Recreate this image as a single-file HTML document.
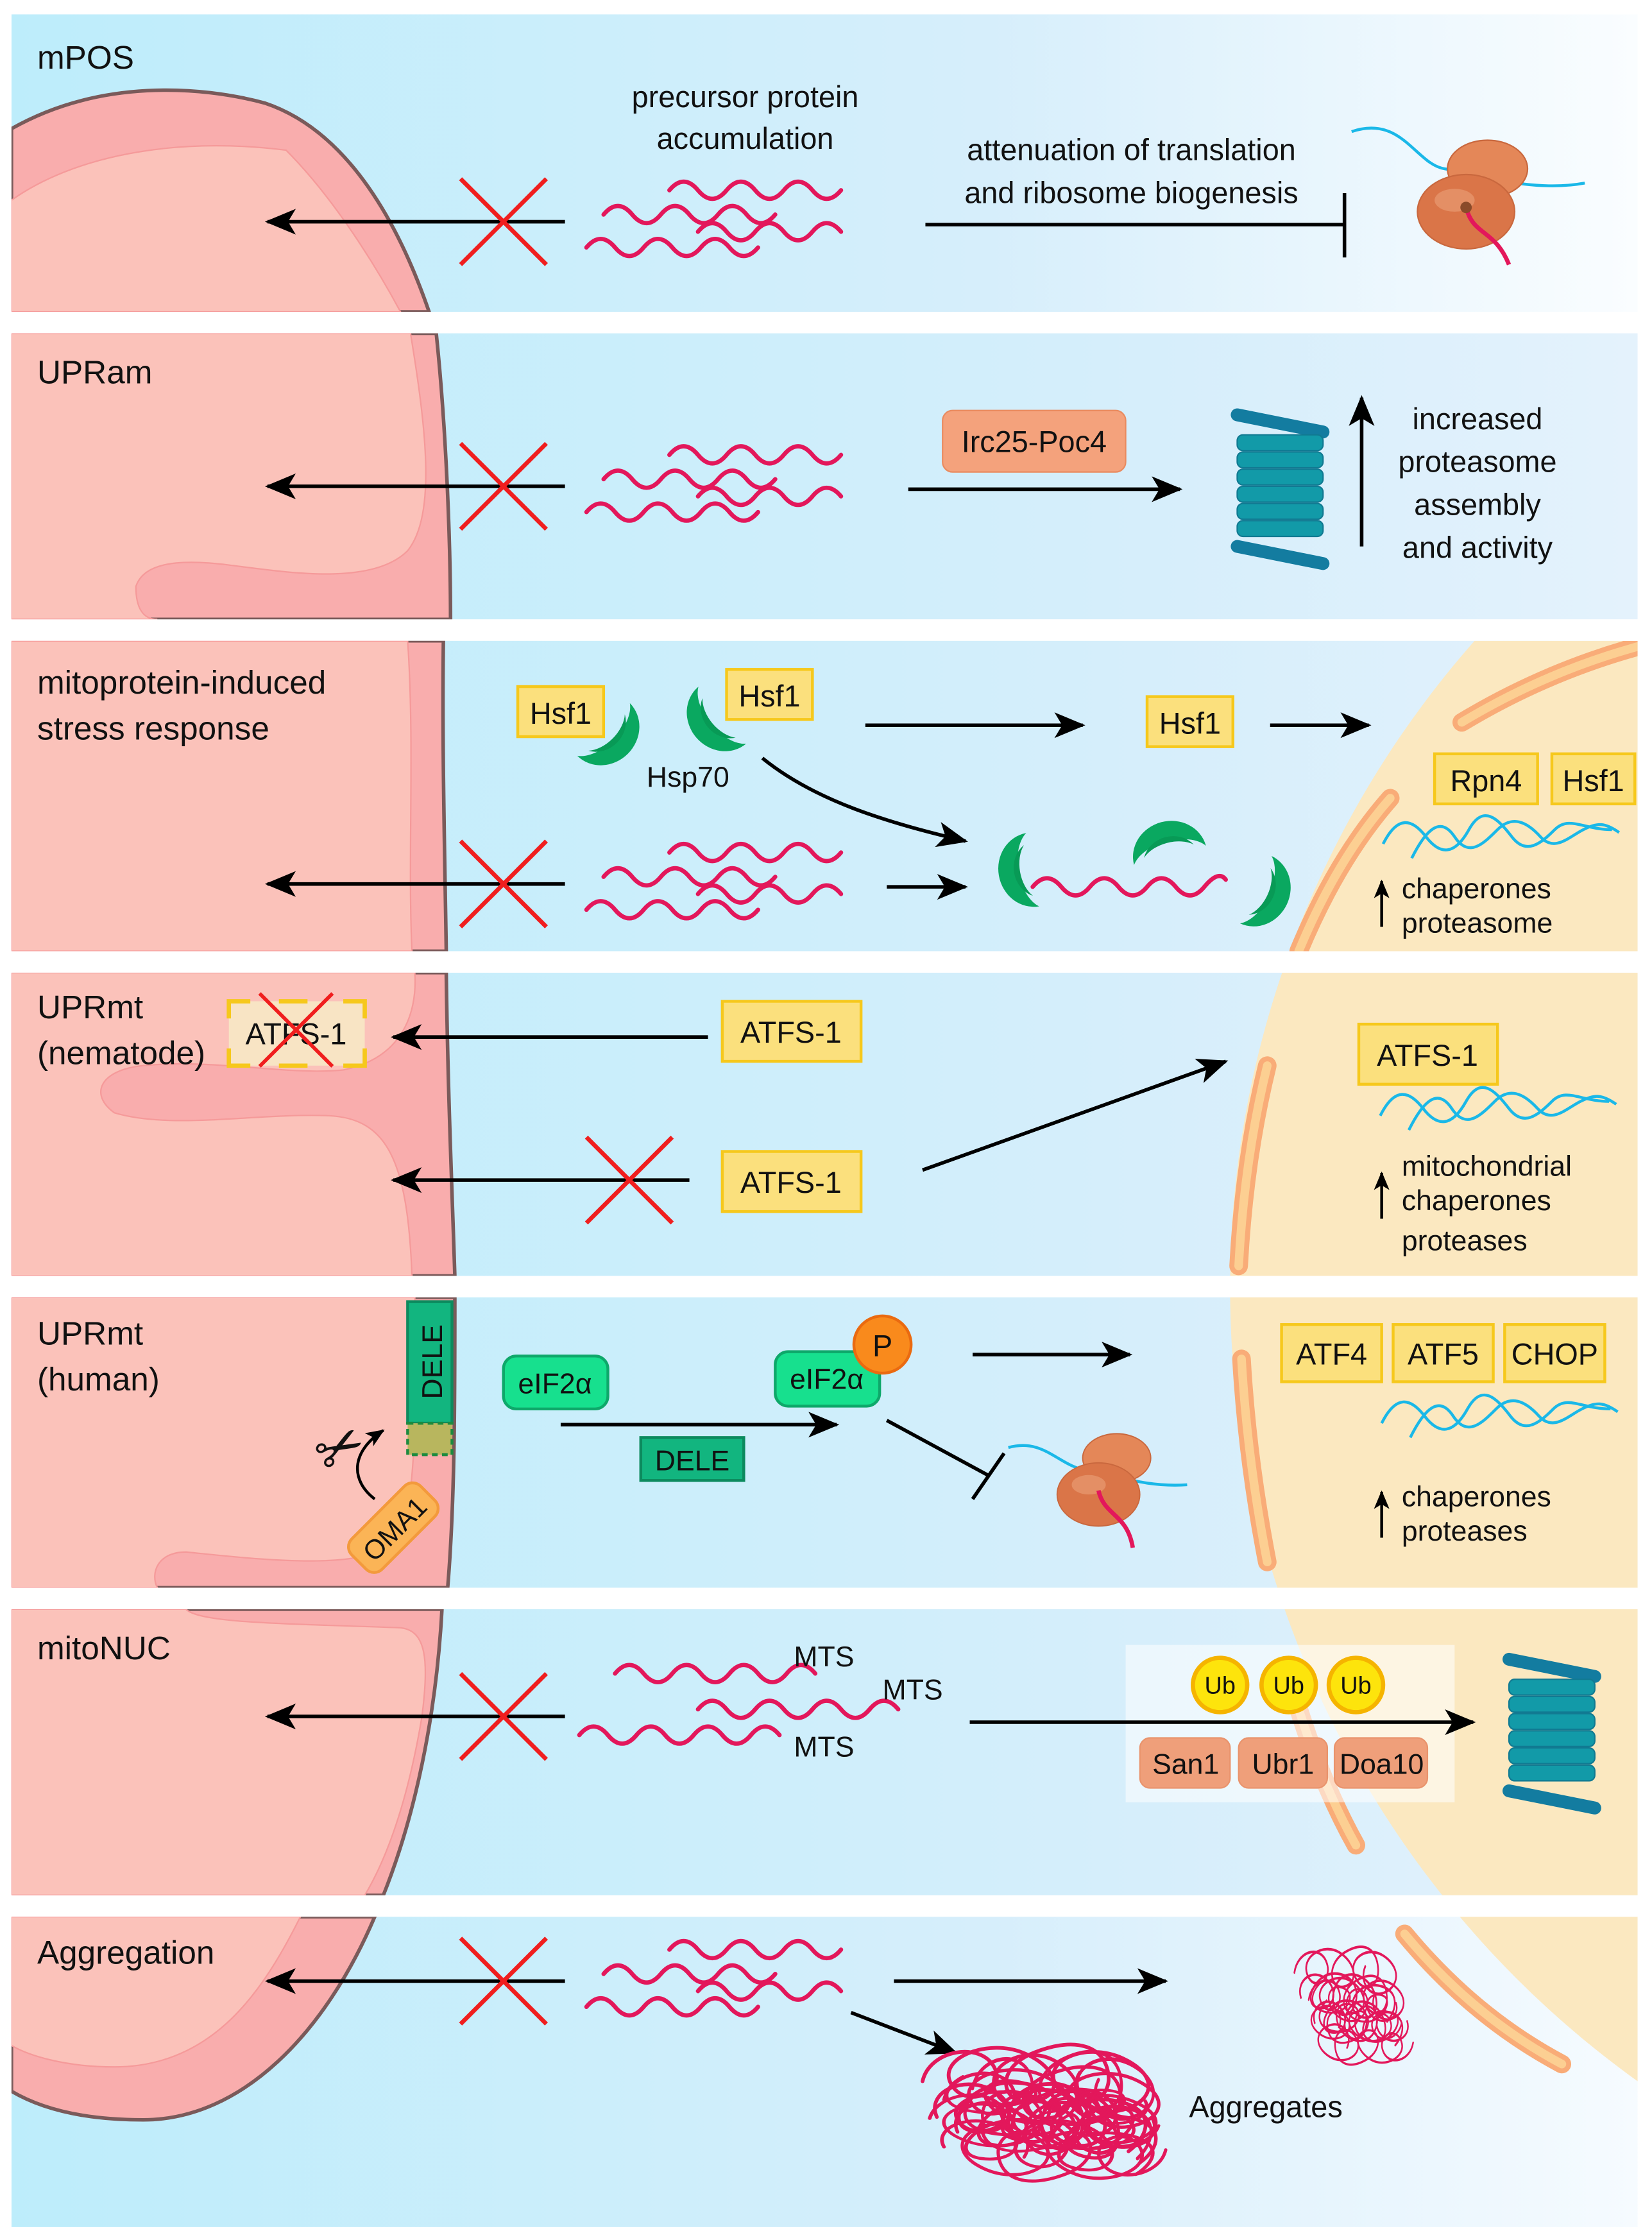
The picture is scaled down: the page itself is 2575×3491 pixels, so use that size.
<!DOCTYPE html>
<html><head><meta charset="utf-8"><style>
html,body{margin:0;padding:0;background:#fff}
svg{display:block}
text{font-family:"Liberation Sans",sans-serif;fill:#111}
</style></head><body>
<svg width="2575" height="3491" viewBox="0 0 1155 1566" preserveAspectRatio="none" xmlns="http://www.w3.org/2000/svg">
<defs>
<linearGradient id="bg" x1="0" x2="1" y1="0" y2="0"><stop offset="0" stop-color="#bdedfb"/><stop offset="0.7" stop-color="#d6eefb"/><stop offset="1" stop-color="#e4f2fc"/></linearGradient>
<linearGradient id="bg1" x1="0" x2="1" y1="0" y2="0"><stop offset="0" stop-color="#bdedfb"/><stop offset="0.6" stop-color="#d6eefb"/><stop offset="1" stop-color="#fafdff"/></linearGradient>
<linearGradient id="bg7" x1="0" x2="1" y1="0" y2="0"><stop offset="0" stop-color="#bdedfb"/><stop offset="0.6" stop-color="#d6eefb"/><stop offset="1" stop-color="#f6fbff"/></linearGradient>
<clipPath id="pan"><rect x="8" y="448" width="1137" height="217"/><rect x="8" y="680" width="1137" height="212"/><rect x="8" y="907" width="1137" height="203"/><rect x="8" y="1125" width="1137" height="200"/><rect x="8" y="1340" width="1137" height="217"/></clipPath>
<marker id="ah" viewBox="0 0 12 10" refX="11" refY="5" markerWidth="22" markerHeight="18" orient="auto" markerUnits="userSpaceOnUse"><path d="M0,0 L12,5 L0,10 L3,5 Z" fill="#000"/></marker>
<marker id="ahs" viewBox="0 0 12 10" refX="11" refY="5" markerWidth="13" markerHeight="11" orient="auto" markerUnits="userSpaceOnUse"><path d="M0,0 L12,5 L0,10 L3,5 Z" fill="#000"/></marker>
<g id="waves" fill="none" stroke="#e3175b" stroke-width="3" stroke-linecap="round">
<path d="M468,133 q10,-12 20,0 t20,0 t20,0 t20,0 t20,0 t20,0"/>
<path d="M422,150 q10,-12 20,0 t20,0 t20,0 t20,0 t20,0 t20,0"/>
<path d="M488,162 q10,-12 20,0 t20,0 t20,0 t20,0 t20,0"/>
<path d="M410,173 q10,-12 20,0 t20,0 t20,0 t20,0 t20,0 t20,0"/>
</g>
<g id="xx" stroke="#f01e1e" stroke-width="3"><line x1="-30" y1="-30" x2="30" y2="30"/><line x1="30" y1="-30" x2="-30" y2="30"/></g>
<g id="crescent"><path d="M0,-26 A24,26 0 0,0 0,26 A16,28 0 0,1 0,-26 Z" fill="#0aa860"/><path d="M-3,-18 A18,20 0 0,0 -3,18 A14,22 0 0,1 -3,-18Z" fill="#089a56"/></g>
<g id="prot">
<path d="M-30,-52 L30,-40" stroke="#137ca0" stroke-width="9" stroke-linecap="round"/>
<g fill="#129aa8" stroke="#117a92" stroke-width="1"><rect x="-30" y="-38" width="60" height="11" rx="4"/><rect x="-30" y="-26" width="60" height="11" rx="4"/><rect x="-30" y="-14" width="60" height="11" rx="4"/><rect x="-30" y="-2" width="60" height="11" rx="4"/><rect x="-30" y="10" width="60" height="11" rx="4"/><rect x="-30" y="22" width="60" height="11" rx="4"/></g>
<path d="M-30,40 L30,52" stroke="#137ca0" stroke-width="9" stroke-linecap="round"/>
</g>
<g id="dna" fill="none" stroke="#1ab8e8" stroke-width="2"><path d="M0,10 C10,-10 20,-8 30,5 S50,18 60,0 S80,-8 90,5 S110,10 120,0 S140,0 160,0"/><path d="M20,20 C30,0 40,-10 50,5 S70,10 80,0 S100,-6 110,5 S130,5 140,0 S155,-5 165,2"/></g>
<g id="ribo"><ellipse cx="15" cy="-22" rx="28" ry="20" fill="#e48758" stroke="#c9683e"/><ellipse cx="0" cy="8" rx="34" ry="26" fill="#da7548" stroke="#c9683e"/><ellipse cx="-8" cy="0" rx="14" ry="8" fill="#eba07a" opacity="0.6"/></g>
<path id="tangle" d="M0,20 c5,-22 40,-28 50,-10 s-20,30 -30,12 s25,-32 50,-22 s30,30 8,34 s-30,-22 0,-34 s50,-4 52,16 s-24,26 -36,8 s20,-32 46,-20 s22,30 0,36 s-40,-10 -30,-26 M10,45 c-8,-18 20,-30 40,-18 s10,32 -14,28 s-4,-34 26,-34 s42,18 30,34 s-40,4 -30,-18 s46,-18 60,0 s0,34 -22,26 s-4,-34 30,-30 s30,24 14,36"/>
</defs>

<rect x="8" y="10" width="1137" height="208" fill="url(#bg1)"/>
<rect x="8" y="233" width="1137" height="200" fill="url(#bg)"/>
<rect x="8" y="448" width="1137" height="217" fill="url(#bg)"/>
<rect x="8" y="680" width="1137" height="212" fill="url(#bg)"/>
<rect x="8" y="907" width="1137" height="203" fill="url(#bg)"/>
<rect x="8" y="1125" width="1137" height="200" fill="url(#bg)"/>
<rect x="8" y="1340" width="1137" height="217" fill="url(#bg7)"/>

<g clip-path="url(#pan)">
<circle cx="1543" cy="900" r="683" fill="#fbe8c0"/>
<g fill="none" stroke-linecap="round">
<g stroke="#f9ac78" stroke-width="13">
<path d="M1022,505 Q1080,470 1145,452"/><path d="M972,558 Q935,600 908,665"/>
<path d="M886,745 Q870,810 866,885"/><path d="M868,950 Q872,1020 886,1092"/>
<path d="M900,1168 Q920,1240 948,1290"/><path d="M982,1352 Q1030,1410 1092,1443"/>
</g>
<g stroke="#fccf92" stroke-width="6">
<path d="M1022,505 Q1080,470 1145,452"/><path d="M972,558 Q935,600 908,665"/>
<path d="M886,745 Q870,810 866,885"/><path d="M868,950 Q872,1020 886,1092"/>
<path d="M900,1168 Q920,1240 948,1290"/><path d="M982,1352 Q1030,1410 1092,1443"/>
</g>
</g>
</g>

<g stroke="#7a5a5a" stroke-width="2.5" fill="#f9adad">
<path d="M8,90 C70,55 140,60 185,72 C245,92 280,160 300,218 L8,218 Z"/>
<path d="M8,233 L305,233 C312,300 315,380 315,433 L8,433 Z"/>
<path d="M8,448 L310,448 C309,520 311,600 312,665 L8,665 Z"/>
<path d="M8,680 L312,680 C313,760 316,830 318,892 L8,892 Z"/>
<path d="M8,907 L318,907 C318,980 318,1050 313,1110 L8,1110 Z"/>
<path d="M8,1125 L309,1125 C305,1200 290,1270 268,1325 L8,1325 Z"/>
<path d="M8,1340 L262,1340 C228,1420 170,1482 100,1482 C60,1482 30,1475 8,1462 Z"/>
</g>
<g fill="#fbc2ba" stroke="#f59a9a" stroke-width="1">
<path d="M8,140 C50,110 120,95 200,105 C235,140 265,190 280,218 L8,218 Z"/>
<path d="M8,233 L287,233 C298,300 305,360 285,385 C260,410 200,400 160,395 C120,390 100,395 95,410 C95,425 100,433 110,433 L8,433 Z"/>
<path d="M8,448 L285,448 C290,520 285,600 288,665 L8,665 Z"/>
<path d="M8,680 L290,680 C292,710 280,740 240,748 C200,752 150,740 100,745 C70,748 62,765 80,778 C120,790 180,778 230,780 C270,782 285,810 288,892 L8,892 Z"/>
<path d="M8,907 L290,907 C292,980 290,1050 280,1075 C260,1100 180,1090 130,1085 C110,1085 105,1100 110,1110 L8,1110 Z"/>
<path d="M8,1125 L130,1125 C140,1135 200,1135 280,1138 C298,1140 300,1160 295,1200 C285,1260 270,1300 255,1325 L8,1325 Z"/>
<path d="M8,1340 L210,1340 C185,1390 150,1445 80,1445 C45,1445 20,1437 8,1430 Z"/>
</g>
<g fill="#fff"><rect x="0" y="218" width="1155" height="15"/><rect x="0" y="433" width="1155" height="15"/><rect x="0" y="665" width="1155" height="15"/><rect x="0" y="892" width="1155" height="15"/><rect x="0" y="1110" width="1155" height="15"/><rect x="0" y="1325" width="1155" height="15"/><rect x="0" y="1557" width="1155" height="9"/><rect x="0" y="0" width="1155" height="10"/><rect x="0" y="0" width="8" height="1566"/><rect x="1145" y="0" width="10" height="1566"/></g>

<rect x="787" y="1150" width="230" height="110" fill="#fff" opacity="0.55"/>

<g font-size="23">
<text x="26" y="48">mPOS</text>
<text x="26" y="268">UPRam</text>
<text x="26" y="485">mitoprotein-induced</text><text x="26" y="517">stress response</text>
<text x="26" y="712">UPRmt</text><text x="26" y="744">(nematode)</text>
<text x="26" y="940">UPRmt</text><text x="26" y="972">(human)</text>
<text x="26" y="1160">mitoNUC</text>
<text x="26" y="1373">Aggregation</text>
</g>

<g stroke="#000" stroke-width="2.5" fill="none">
<line x1="395" y1="155" x2="187" y2="155" marker-end="url(#ah)"/>
<line x1="395" y1="340" x2="187" y2="340" marker-end="url(#ah)"/>
<line x1="395" y1="618" x2="187" y2="618" marker-end="url(#ah)"/>
<line x1="495" y1="725" x2="275" y2="725" marker-end="url(#ah)"/>
<line x1="482" y1="825" x2="275" y2="825" marker-end="url(#ah)"/>
<line x1="395" y1="1200" x2="187" y2="1200" marker-end="url(#ah)"/>
<line x1="395" y1="1385" x2="187" y2="1385" marker-end="url(#ah)"/>
<line x1="647" y1="157" x2="940" y2="157"/><line x1="940" y1="135" x2="940" y2="180"/>
<line x1="635" y1="342" x2="825" y2="342" marker-end="url(#ah)"/>
<line x1="952" y1="382" x2="952" y2="278" marker-end="url(#ah)"/>
<line x1="605" y1="507" x2="757" y2="507" marker-end="url(#ah)"/>
<line x1="888" y1="507" x2="957" y2="507" marker-end="url(#ah)"/>
<path d="M533,530 C570,560 620,575 675,588" marker-end="url(#ah)"/>
<line x1="620" y1="620" x2="675" y2="620" marker-end="url(#ah)"/>
<line x1="966" y1="648" x2="966" y2="616" marker-end="url(#ahs)" stroke-width="2"/>
<line x1="645" y1="818" x2="857" y2="742" marker-end="url(#ah)"/>
<line x1="966" y1="852" x2="966" y2="820" marker-end="url(#ahs)" stroke-width="2"/>
<line x1="392" y1="996" x2="585" y2="996" marker-end="url(#ah)"/>
<line x1="680" y1="947" x2="790" y2="947" marker-end="url(#ah)"/>
<line x1="620" y1="993" x2="692" y2="1032"/><line x1="680" y1="1048" x2="702" y2="1016"/>
<line x1="966" y1="1075" x2="966" y2="1043" marker-end="url(#ahs)" stroke-width="2"/>
<line x1="678" y1="1204" x2="1030" y2="1204" marker-end="url(#ah)"/>
<line x1="625" y1="1385" x2="815" y2="1385" marker-end="url(#ah)"/>
<line x1="595" y1="1407" x2="668" y2="1435" marker-end="url(#ah)"/>
<path d="M262,1048 C245,1035 245,1015 268,1000" marker-end="url(#ahs)" stroke-width="2"/>
</g>

<use href="#waves"/>
<use href="#waves" transform="translate(0,185)"/>
<use href="#waves" transform="translate(0,463)"/>
<use href="#waves" transform="translate(0,1230)"/>
<g fill="none" stroke="#e3175b" stroke-width="3" stroke-linecap="round">
<path d="M430,1170 q10,-12 20,0 t20,0 t20,0 t20,0 t20,0 t20,0 t20,0"/>
<path d="M488,1195 q10,-12 20,0 t20,0 t20,0 t20,0 t20,0 t20,0 t20,0"/>
<path d="M405,1213 q10,-12 20,0 t20,0 t20,0 t20,0 t20,0 t20,0 t20,0"/>
<path d="M722,620 q10,-12 20,0 t20,0 t20,0 t20,0 t20,0 t20,0 t15,-5"/>
</g>
<use href="#xx" transform="translate(352,155)"/>
<use href="#xx" transform="translate(352,340)"/>
<use href="#xx" transform="translate(352,618)"/>
<use href="#xx" transform="translate(440,825)"/>
<use href="#xx" transform="translate(352,1200)"/>
<use href="#xx" transform="translate(352,1385)"/>

<g font-size="21" text-anchor="middle">
<text x="521" y="75">precursor protein</text><text x="521" y="104">accumulation</text>
<text x="791" y="112">attenuation of translation</text><text x="791" y="142">and ribosome biogenesis</text>
</g>
<path d="M945,92 C980,80 990,115 1010,118 S1070,135 1108,128" stroke="#1ab8e8" stroke-width="2" fill="none"/>
<use href="#ribo" transform="translate(1025,140)"/>
<path d="M1025,145 C1030,165 1045,160 1055,185" stroke="#e3175b" stroke-width="3" fill="none"/>
<circle cx="1025" cy="145" r="4" fill="#8a4b2a"/>

<rect x="659" y="287" width="128" height="43" rx="7" fill="#f4a27c" stroke="#e98b60"/>
<text x="723" y="316" font-size="21" text-anchor="middle">Irc25-Poc4</text>
<use href="#prot" transform="translate(895,342)"/>
<g font-size="21" text-anchor="middle"><text x="1033" y="300">increased</text><text x="1033" y="330">proteasome</text><text x="1033" y="360">assembly</text><text x="1033" y="390">and activity</text></g>

<use href="#crescent" transform="translate(422,510) rotate(225)"/>
<use href="#crescent" transform="translate(505,500) rotate(-40)"/>
<use href="#crescent" transform="translate(722,608) rotate(-10)"/>
<use href="#crescent" transform="translate(818,598) rotate(75)"/>
<use href="#crescent" transform="translate(878,622) rotate(205)"/>

<g fill="#fbe07d" stroke="#f6c81c" stroke-width="2">
<rect x="362" y="480" width="60" height="35"/><rect x="508" y="468" width="60" height="35"/>
<rect x="802" y="487" width="60" height="35"/>
<rect x="1003" y="527" width="72" height="35"/><rect x="1085" y="527" width="58" height="35"/>
<rect x="505" y="700" width="97" height="42"/><rect x="505" y="805" width="97" height="42"/>
<rect x="950" y="716" width="97" height="42"/>
<rect x="896" y="926" width="70" height="40"/><rect x="974" y="926" width="70" height="40"/><rect x="1052" y="926" width="70" height="40"/>
</g>
<rect x="160" y="700" width="95" height="45" fill="#f8e4c4"/>
<g stroke="#f6c81c" stroke-width="3" fill="none"><path d="M160,712 V700 H175 M195,700 H215 M240,700 H255 V712 M255,733 V745 H240 M215,745 H195 M175,745 H160 V733"/></g>
<g font-size="21" text-anchor="middle">
<text x="392" y="506">Hsf1</text><text x="538" y="494">Hsf1</text><text x="832" y="513">Hsf1</text>
<text x="1039" y="553">Rpn4</text><text x="1114" y="553">Hsf1</text>
<text x="207" y="730">ATFS-1</text>
<text x="553" y="729">ATFS-1</text><text x="553" y="834">ATFS-1</text><text x="998" y="745">ATFS-1</text>
<text x="931" y="954">ATF4</text><text x="1009" y="954">ATF5</text><text x="1087" y="954">CHOP</text>
<text x="481" y="550" font-size="20">Hsp70</text>
</g>
<use href="#xx" transform="translate(207,720) scale(0.85)"/>
<use href="#dna" transform="translate(967,580)"/>
<use href="#dna" transform="translate(965,770)"/>
<use href="#dna" transform="translate(966,985)"/>
<g font-size="20"><text x="980" y="628">chaperones</text><text x="980" y="652">proteasome</text>
<text x="980" y="822">mitochondrial</text><text x="980" y="846">chaperones</text><text x="980" y="874">proteases</text>
<text x="980" y="1053">chaperones</text><text x="980" y="1077">proteases</text></g>

<rect x="285" y="910" width="31" height="85" fill="#12b57f" stroke="#0c8a5e" stroke-width="2"/>
<text transform="translate(309,952) rotate(-90)" font-size="20" text-anchor="middle">DELE</text>
<rect x="285" y="995" width="31" height="22" fill="#b8b65e" stroke="#1c8a40" stroke-width="2" stroke-dasharray="4,3"/>
<g transform="translate(275,1068) rotate(-45)"><rect x="-34" y="-15" width="68" height="30" rx="8" fill="#fbb456" stroke="#f39a3c" stroke-width="2"/><text x="0" y="8" font-size="19" text-anchor="middle">OMA1</text></g>
<text x="238" y="1026" font-size="40" text-anchor="middle" transform="rotate(-30 238 1013)">✂</text>
<rect x="352" y="948" width="73" height="37" rx="9" fill="#17e08e" stroke="#0ea86a" stroke-width="2"/>
<text x="388" y="974" font-size="20" text-anchor="middle">eIF2α</text>
<rect x="448" y="1005" width="72" height="30" fill="#12b57f" stroke="#0c8a5e" stroke-width="2"/>
<text x="484" y="1028" font-size="20" text-anchor="middle">DELE</text>
<rect x="542" y="945" width="73" height="38" rx="9" fill="#17e08e" stroke="#0ea86a" stroke-width="2"/>
<text x="578" y="971" font-size="20" text-anchor="middle">eIF2α</text>
<circle cx="617" cy="940" r="20" fill="#f98a1c" stroke="#ea6a10" stroke-width="2"/>
<text x="617" y="948" font-size="21" text-anchor="middle">P</text>
<path d="M705,1012 C730,1005 740,1025 760,1028 S800,1040 830,1038" stroke="#1ab8e8" stroke-width="2" fill="none"/>
<use href="#ribo" transform="translate(768,1038) scale(0.85)"/>
<path d="M768,1042 C772,1060 788,1058 792,1082" stroke="#e3175b" stroke-width="3" fill="none"/>

<g font-size="20"><text x="555" y="1165">MTS</text><text x="617" y="1188">MTS</text><text x="555" y="1228">MTS</text></g>
<g fill="#fde40c" stroke="#f5b400" stroke-width="3"><circle cx="853" cy="1178" r="19"/><circle cx="901" cy="1178" r="19"/><circle cx="948" cy="1178" r="19"/></g>
<g font-size="17" text-anchor="middle"><text x="853" y="1184">Ub</text><text x="901" y="1184">Ub</text><text x="948" y="1184">Ub</text></g>
<g fill="#ef9f7a" stroke="#e9936c"><rect x="797" y="1215" width="63" height="35" rx="7"/><rect x="866" y="1215" width="62" height="35" rx="7"/><rect x="933" y="1215" width="65" height="35" rx="7"/></g>
<g font-size="20" text-anchor="middle"><text x="829" y="1240">San1</text><text x="897" y="1240">Ubr1</text><text x="966" y="1240">Doa10</text></g>
<use href="#prot" transform="translate(1085,1212)"/>

<!-- aggregates -->
<g fill="none" stroke="#e3175b" stroke-width="2.6" stroke-linecap="round">
<use href="#tangle" transform="translate(645,1435)"/>
<use href="#tangle" transform="translate(660,1450) scale(0.95,0.9)"/>
<use href="#tangle" transform="translate(650,1465) scale(1,0.8)"/>
<use href="#tangle" transform="translate(680,1440) scale(0.8,1)"/>
<use href="#tangle" transform="translate(815,1520) rotate(180) scale(0.9,0.85)"/>
<use href="#tangle" transform="translate(810,1500) rotate(180) scale(0.95,0.7)"/>
<use href="#tangle" transform="translate(905,1365) scale(0.45,0.7)"/>
<use href="#tangle" transform="translate(915,1385) scale(0.42,0.65)"/>
<use href="#tangle" transform="translate(988,1440) rotate(180) scale(0.42,0.6)"/>
<use href="#tangle" transform="translate(980,1425) rotate(180) scale(0.4,0.55)"/>
</g>
<text x="885" y="1480" font-size="21" text-anchor="middle">Aggregates</text>
</svg>
</body></html>
